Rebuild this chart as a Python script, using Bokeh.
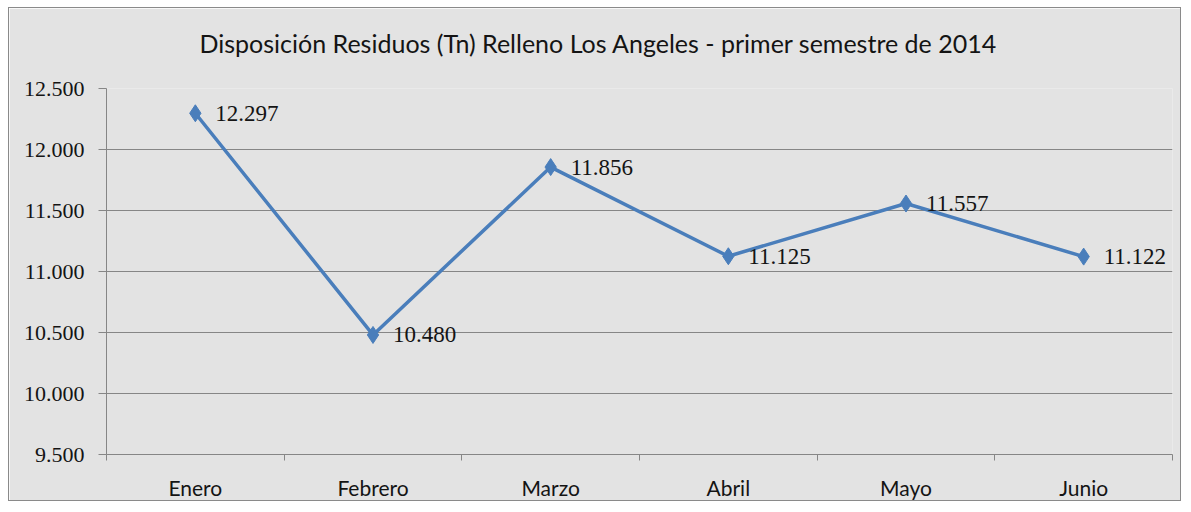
from bokeh.plotting import figure
from bokeh.models import ColumnDataSource, FixedTicker, Range1d, Title
from bokeh.core.properties import value
from bokeh.embed import file_html
from bokeh.resources import INLINE

months = ["Enero", "Febrero", "Marzo", "Abril", "Mayo", "Junio"]
toneladas = [12297, 10480, 11856, 11125, 11557, 11122]
y_ticks = [9500, 10000, 10500, 11000, 11500, 12000, 12500]
y_tick_labels = ["9.500", "10.000", "10.500", "11.000", "11.500", "12.000", "12.500"]
title_text = "Disposición Residuos (Tn) Relleno Los Angeles - primer semestre de 2014"

xs = [i + 0.5 for i in range(len(months))]
labels = [f"{v:,}".replace(",", ".") for v in toneladas]
src = ColumnDataSource(dict(x=xs, y=toneladas, lab=labels))

bg = "#e3e3e3"
p = figure(width=1173, height=494, output_backend="svg", toolbar_location=None,
           x_range=Range1d(0, len(months)), y_range=Range1d(y_ticks[0], y_ticks[-1]),
           min_border_left=97, min_border_right=10, min_border_top=80, min_border_bottom=48)
p.title_location = None
p.styles = {"border": "1px solid #8a8a8a", "margin-left": "8px", "margin-top": "7px"}
p.background_fill_color = bg
p.border_fill_color = bg
p.outline_line_color = None

# spacer between plot frame and title, then the title (centred on the whole chart)
p.add_layout(Title(text=" ", text_font_size="1px", standoff=10), "above")
p.add_layout(Title(text=title_text, align="left", offset=93, standoff=35,
                   text_font="Lato", text_font_size="25px", text_font_style="normal",
                   text_color="#141414"), "above")

# x axis
p.xaxis.ticker = FixedTicker(ticks=xs, minor_ticks=list(range(len(months) + 1)))
p.xaxis.major_label_overrides = {x: m for x, m in zip(xs, months)}
p.xaxis.major_tick_line_color = None
p.xaxis.minor_tick_in = 0
p.xaxis.minor_tick_out = 6
p.xaxis.minor_tick_line_color = "#868686"
p.xaxis.axis_line_color = "#868686"
p.xaxis.major_label_text_font = "Lato"
p.xaxis.major_label_text_font_size = "21px"
p.xaxis.major_label_text_color = "#141414"
p.xaxis.major_label_standoff = 14
p.xgrid.grid_line_color = None

# y axis
p.yaxis.ticker = FixedTicker(ticks=y_ticks, minor_ticks=[])
p.yaxis.major_label_overrides = {t: l for t, l in zip(y_ticks, y_tick_labels)}
p.yaxis.axis_line_color = "#868686"
p.yaxis.major_tick_line_color = "#868686"
p.yaxis.major_tick_in = 0
p.yaxis.major_tick_out = 8
p.yaxis.major_label_text_font = "Liberation Serif"
p.yaxis.major_label_text_font_size = "22px"
p.yaxis.major_label_text_color = "#141414"
p.yaxis.major_label_standoff = 14
p.ygrid.grid_line_color = "#868686"
p.ygrid.grid_line_width = 1

p.line("x", "y", source=src, line_color="#4a7ebb", line_width=3.5)
p.scatter("x", "y", source=src, marker="diamond", size=17, fill_color="#4a7ebb",
          line_color="#4a7ebb")
p.text("x", "y", text="lab", source=src, x_offset=20, text_baseline="middle",
       text_align="left", text_font=value("Liberation Serif"), text_font_size="23px",
       text_color="#141414")

open("out.html", "w").write(file_html(p, INLINE))
